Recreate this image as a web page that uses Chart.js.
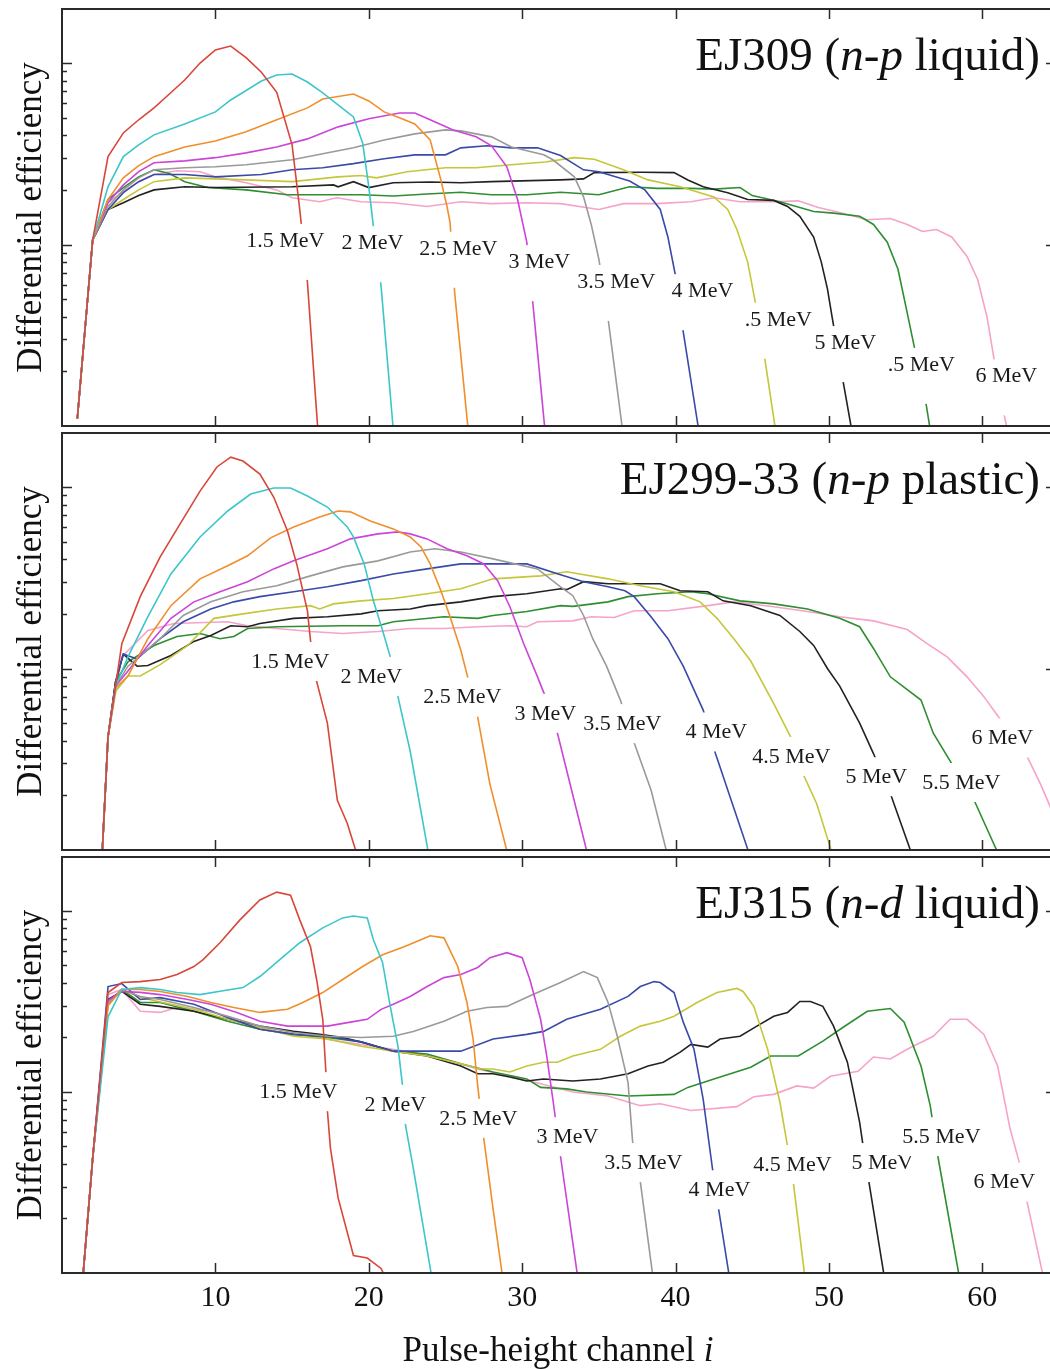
<!DOCTYPE html>
<html><head><meta charset="utf-8">
<script src="https://cdn.jsdelivr.net/npm/chart.js@4"></script>
<style>
html,body{margin:0;padding:0;background:#fff;overflow:hidden;width:1050px;height:1369px}
canvas{position:absolute;left:0}
</style></head><body>
<canvas id="c1" width="1060" height="430" style="top:0px"></canvas>
<canvas id="c2" width="1060" height="424" style="top:430px"></canvas>
<canvas id="c3" width="1060" height="515" style="top:854px"></canvas>
<script>
// ---------- shared text / ticks ----------
const energies = ['1.5 MeV','2 MeV','2.5 MeV','3 MeV','3.5 MeV','4 MeV','4.5 MeV','5 MeV','5.5 MeV','6 MeV'];
const xTickValues = [10,20,30,40,50,60];
const xTickLabels = ['10','20','30','40','50','60'];
const yAxisTitle = 'Differential efficiency';
const xAxisTitle = [['Pulse-height channel ',0],['i',1]];

// ---------- EJ309 (n-p liquid) : [channel, efficiency] ----------
const ej309_15 = [[1,0.011],[2,0.106],[3,0.305],[4,0.412],[5,0.487],[6,0.566],[7,0.675],[8,0.806],[9,1.0],[10,1.18],[11,1.24],[12,1.07],[13,0.89],[14,0.69],[15,0.354],[15.5,0.156],[16,0.062],[16.5,0.0155],[17,0.004]];
const ej309_20 = [[1,0.011],[2,0.106],[3,0.208],[4,0.305],[5,0.354],[6,0.402],[8,0.462],[10,0.538],[11,0.626],[13,0.796],[14,0.86],[15,0.87],[16,0.786],[17,0.684],[19,0.505],[19.6,0.363],[20,0.208],[20.3,0.126],[20.8,0.059],[21.7,0.0075]];
const ej309_25 = [[1,0.011],[2,0.106],[3,0.177],[4,0.233],[5,0.272],[6,0.305],[8,0.345],[10,0.372],[12,0.418],[14,0.487],[16,0.566],[17,0.634],[19,0.675],[20,0.618],[21,0.538],[22,0.499],[23,0.462],[24,0.377],[24.7,0.227],[25.1,0.162],[25.3,0.132],[25.6,0.054],[26.6,0.0075]];
const ej309_30 = [[1,0.011],[2,0.106],[3,0.17],[4,0.213],[5,0.252],[6,0.282],[8,0.289],[10,0.301],[12,0.32],[14,0.345],[16,0.382],[18,0.445],[20,0.493],[22,0.531],[23,0.531],[24,0.487],[25.5,0.428],[27,0.392],[28,0.35],[29,0.268],[29.7,0.177],[30.3,0.103],[30.7,0.047],[31.6,0.0075]];
const ej309_35 = [[1,0.011],[2,0.106],[3,0.162],[4,0.2],[5,0.233],[6,0.258],[8,0.265],[10,0.268],[12,0.275],[15,0.293],[17,0.316],[19,0.341],[21,0.377],[23,0.407],[25,0.428],[26,0.423],[28,0.392],[29.3,0.345],[31.4,0.312],[32,0.293],[33.4,0.236],[34,0.183],[34.5,0.129],[35,0.083],[35.6,0.039],[36.7,0.0075]];
const ej309_40 = [[1,0.011],[2,0.106],[3,0.156],[4,0.193],[5,0.222],[6,0.243],[8,0.243],[10,0.236],[13,0.243],[15,0.258],[17,0.265],[19,0.279],[21,0.297],[23,0.312],[25,0.312],[26,0.341],[27.7,0.35],[29.3,0.341],[31,0.341],[32.5,0.309],[34,0.258],[35,0.252],[37,0.224],[38,0.2],[39,0.156],[39.5,0.11],[40,0.067],[40.5,0.033],[41.7,0.0075]];
const ej309_45 = [[1,0.011],[2,0.106],[3,0.156],[4,0.177],[5,0.2],[6,0.222],[8,0.233],[12,0.227],[15,0.222],[18,0.236],[19.5,0.24],[20.5,0.233],[22.5,0.252],[25,0.265],[27,0.265],[29.3,0.275],[31.5,0.285],[33.4,0.301],[34.7,0.295],[36.6,0.258],[38.2,0.227],[40.3,0.208],[42.5,0.183],[43.4,0.156],[44,0.121],[44.7,0.08],[45.2,0.048],[45.8,0.024],[46.7,0.0075]];
const ej309_50 = [[1,0.011],[2,0.106],[3,0.156],[4,0.17],[5,0.186],[6,0.2],[8,0.208],[10,0.206],[15,0.208],[17.7,0.213],[18,0.208],[19,0.222],[20,0.206],[21.6,0.219],[24,0.221],[26,0.219],[28,0.222],[32.5,0.227],[34,0.23],[34.7,0.249],[37.8,0.25],[39.9,0.249],[40.8,0.227],[41.8,0.208],[43.4,0.193],[44.7,0.177],[46.4,0.175],[47.3,0.162],[48.1,0.143],[49,0.11],[49.5,0.08],[49.9,0.057],[50.2,0.04],[50.9,0.018],[51.7,0.0075]];
const ej309_55 = [[1,0.011],[2,0.106],[3,0.177],[4,0.206],[5,0.236],[6,0.258],[7,0.246],[8,0.222],[9.5,0.206],[12,0.2],[14.7,0.188],[17,0.188],[19.5,0.188],[21.6,0.185],[23.8,0.19],[26,0.194],[28,0.188],[30.3,0.188],[32.5,0.194],[35,0.188],[37,0.208],[38.8,0.204],[41,0.204],[42.5,0.202],[44.2,0.206],[45,0.186],[46.8,0.172],[49,0.152],[50.3,0.149],[52,0.143],[52.9,0.129],[53.8,0.103],[54.5,0.073],[55.1,0.042],[56.3,0.0137],[56.8,0.0075]];
const ej309_60 = [[1,0.011],[2,0.106],[3,0.17],[4,0.196],[5,0.222],[6,0.243],[7.5,0.255],[9,0.252],[10,0.236],[12,0.219],[14,0.2],[15,0.181],[16.8,0.172],[17.9,0.181],[19.5,0.172],[21.6,0.17],[23.8,0.162],[26,0.172],[28,0.168],[30.3,0.17],[32.5,0.168],[35,0.156],[36.6,0.168],[38.8,0.168],[41,0.172],[42.5,0.181],[44.2,0.172],[46.4,0.172],[48,0.174],[49.3,0.16],[50.7,0.15],[52.5,0.137],[54,0.139],[55.1,0.129],[56.1,0.118],[57,0.121],[58,0.11],[59,0.086],[59.7,0.064],[60.3,0.04],[61.2,0.014],[61.9,0.0075]];
const ej309_title = [['EJ309 (',0],['n',1],['-',0],['p',1],[' liquid)',0]];
const ej309_labels = ['1.5 MeV','2 MeV','2.5 MeV','3 MeV','3.5 MeV','4 MeV','.5 MeV','5 MeV','.5 MeV','6 MeV'];
const ej309_labelAt = [[14.56,0.106],[20.24,0.103],[25.84,0.096],[31.12,0.081],[36.14,0.063],[41.75,0.056],[46.7,0.039],[51.07,0.029],[56.02,0.022],[61.56,0.019]];

// ---------- EJ299-33 (n-p plastic) ----------
const ej299_15 = [[2.5,0.006],[3,0.042],[3.9,0.137],[5.1,0.249],[6.4,0.412],[7.7,0.626],[9,0.95],[10.1,1.29],[11,1.46],[11.8,1.39],[12.9,1.18],[13.8,0.881],[14.7,0.573],[15.3,0.377],[16,0.208],[16.2,0.143],[16.6,0.085],[17.3,0.05],[17.95,0.0188],[18.6,0.014],[19.4,0.0085]];
const ej299_20 = [[2.5,0.006],[3,0.042],[3.5,0.08],[4.3,0.116],[5.6,0.193],[7.1,0.332],[9,0.531],[10.8,0.738],[12.3,0.915],[13.8,0.987],[14.9,0.987],[16,0.892],[17.3,0.776],[18.6,0.603],[19,0.531],[19.7,0.377],[20.3,0.236],[20.9,0.162],[21.4,0.116],[21.9,0.07],[22.7,0.035],[24,0.0085]];
const ej299_25 = [[2.5,0.006],[3,0.042],[3.5,0.078],[4.3,0.091],[5.6,0.146],[7.1,0.222],[9,0.312],[10.8,0.368],[12.1,0.418],[13.6,0.525],[15.1,0.603],[16.8,0.684],[18,0.738],[18.8,0.73],[20.1,0.65],[21.6,0.588],[22.7,0.531],[23.4,0.468],[24,0.377],[24.7,0.268],[25.3,0.193],[26,0.126],[26.5,0.086],[27.1,0.054],[27.9,0.023],[29.2,0.0085]];
const ej299_30 = [[2.5,0.006],[3,0.042],[3.5,0.08],[4.3,0.097],[5.6,0.134],[7.1,0.189],[8.6,0.233],[10.3,0.265],[12.1,0.301],[13.8,0.354],[15.1,0.392],[17.3,0.457],[18.8,0.518],[20.6,0.552],[21.9,0.566],[22.7,0.552],[23.8,0.518],[25.1,0.457],[26.4,0.418],[27.5,0.377],[28.4,0.305],[29.2,0.219],[30.1,0.137],[31,0.09],[31.6,0.067],[32.3,0.044],[34.4,0.0085]];
const ej299_35 = [[2.5,0.006],[3,0.042],[3.5,0.08],[4.3,0.103],[6.4,0.146],[7.9,0.196],[9.7,0.233],[11.8,0.265],[14,0.286],[16.2,0.324],[18.3,0.363],[20.6,0.392],[22.7,0.439],[24.3,0.457],[26,0.439],[28.1,0.402],[31,0.354],[32.5,0.282],[33.3,0.252],[34,0.196],[34.6,0.146],[35.5,0.103],[36.4,0.067],[37.3,0.039],[38.4,0.0214],[39.6,0.0085]];
const ej299_40 = [[2.5,0.006],[3,0.042],[3.5,0.085],[4,0.12],[4.9,0.113],[6.4,0.146],[7.9,0.181],[9.7,0.213],[11.2,0.233],[12.9,0.249],[15.1,0.265],[17.3,0.282],[19.5,0.305],[21.6,0.332],[23.8,0.354],[26,0.377],[30.3,0.377],[32.5,0.329],[34,0.301],[35.6,0.282],[36.7,0.268],[37.3,0.249],[38.4,0.193],[39.5,0.146],[40.5,0.103],[41.8,0.059],[42.6,0.034],[45,0.0085]];
const ej299_45 = [[2.5,0.006],[3,0.042],[3.5,0.075],[4.3,0.091],[5.1,0.091],[6.4,0.105],[8.2,0.134],[9.9,0.189],[11.8,0.2],[14,0.213],[16.2,0.222],[16.8,0.213],[17.7,0.227],[19.5,0.236],[21.6,0.243],[23.8,0.258],[26,0.275],[28.1,0.312],[31.2,0.324],[32.9,0.341],[35.6,0.312],[37.7,0.286],[39.9,0.265],[41.6,0.233],[42.7,0.189],[43.8,0.146],[44.9,0.11],[46.4,0.064],[47.5,0.042],[48.3,0.0264],[49.2,0.018],[50.4,0.0085]];
const ej299_50 = [[2.5,0.006],[3,0.042],[3.5,0.085],[4,0.12],[4.9,0.103],[5.6,0.104],[7.1,0.118],[8.6,0.141],[9.7,0.152],[11,0.172],[12.1,0.17],[12.9,0.177],[15.1,0.189],[17.3,0.193],[19.5,0.2],[20.6,0.208],[22.7,0.213],[23.8,0.222],[26,0.233],[28.1,0.249],[30.3,0.258],[32.5,0.275],[32.9,0.272],[34,0.301],[35.6,0.293],[39,0.293],[40.3,0.268],[42.1,0.265],[43.1,0.236],[44.9,0.222],[46.8,0.196],[48.1,0.16],[49,0.134],[49.9,0.1],[50.7,0.08],[52,0.05],[52.9,0.034],[54,0.0205],[55.6,0.0085]];
const ej299_55 = [[2.5,0.006],[3,0.042],[3.5,0.085],[4.3,0.109],[6,0.134],[7.5,0.15],[9,0.156],[10.3,0.146],[11.2,0.15],[12.1,0.166],[14,0.17],[18.3,0.172],[20.6,0.172],[21.6,0.181],[24.9,0.193],[27.1,0.189],[28.1,0.196],[30.3,0.206],[32.5,0.222],[33.3,0.22],[35.6,0.233],[36.9,0.249],[38.8,0.258],[41,0.265],[42.1,0.258],[44.2,0.236],[46.4,0.227],[48.6,0.213],[50.7,0.189],[52,0.17],[52.9,0.129],[54,0.09],[56,0.067],[56.8,0.044],[58.1,0.029],[59.5,0.0185],[61.3,0.0085]];
const ej299_60 = [[2.5,0.006],[3,0.042],[3.9,0.116],[5.6,0.162],[7.3,0.177],[10.8,0.181],[12.1,0.172],[14,0.166],[16.2,0.16],[18.3,0.156],[20.6,0.16],[22.7,0.166],[24.9,0.166],[27.1,0.17],[29.2,0.172],[30.3,0.17],[31,0.181],[33.3,0.183],[34.5,0.193],[36,0.191],[37.3,0.208],[39.5,0.208],[42.1,0.222],[43.8,0.233],[46.4,0.219],[48.6,0.206],[50.7,0.193],[52.9,0.183],[55.1,0.164],[56.4,0.137],[57.7,0.116],[59,0.09],[60.1,0.07],[61.2,0.052],[62.9,0.033],[63.8,0.023],[64.4,0.0175],[65,0.013]];
const ej299_title = [['EJ299-33 (',0],['n',1],['-',0],['p',1],[' plastic)',0]];
const ej299_labels = ['1.5 MeV','2 MeV','2.5 MeV','3 MeV','3.5 MeV','4 MeV','4.5 MeV','5 MeV','5.5 MeV','6 MeV'];
const ej299_labelAt = [[14.89,0.11],[20.17,0.091],[26.1,0.07],[31.51,0.057],[36.53,0.05],[42.66,0.045],[47.55,0.033],[53.09,0.0255],[58.63,0.0237],[61.3,0.0417]];

// ---------- EJ315 (n-d liquid) ----------
const ej315_15 = [[1,0.004],[2,0.043],[3,0.354],[3.9,0.402],[5.1,0.407],[6.4,0.418],[7.5,0.445],[8.6,0.493],[9.2,0.538],[10.3,0.667],[11.6,0.892],[12.9,1.15],[14,1.27],[14.9,1.22],[15.5,0.892],[16.2,0.634],[16.6,0.418],[17,0.252],[17.2,0.13],[17.3,0.079],[17.5,0.049],[18,0.026],[19,0.0125],[19.9,0.0121],[20.8,0.0106],[21.2,0.009]];
const ej315_20 = [[1,0.004],[2,0.043],[3,0.26],[3.9,0.368],[5.1,0.377],[6.4,0.368],[7.5,0.354],[9,0.345],[10.3,0.36],[11.8,0.377],[12.9,0.434],[14.2,0.538],[15.5,0.667],[17,0.806],[18.3,0.915],[19,0.938],[19.9,0.915],[20.3,0.693],[20.9,0.518],[21.4,0.297],[21.9,0.179],[22.2,0.108],[22.4,0.065],[22.9,0.038],[24.2,0.0085]];
const ej315_25 = [[1,0.004],[2,0.043],[3,0.3],[3.9,0.368],[5.1,0.368],[6.4,0.359],[8.2,0.337],[9.7,0.312],[11.2,0.293],[12.9,0.275],[14.7,0.286],[15.7,0.312],[17,0.354],[18.3,0.418],[19.6,0.493],[20.9,0.573],[22.3,0.634],[23.4,0.693],[24,0.729],[24.9,0.71],[25.8,0.493],[26.4,0.312],[26.8,0.196],[27.1,0.108],[27.5,0.055],[28.1,0.0227],[28.8,0.0085]];
const ej315_30 = [[1,0.004],[2,0.043],[3,0.32],[3.9,0.359],[5.1,0.355],[6.4,0.345],[8.2,0.324],[9.7,0.305],[11.4,0.275],[12.9,0.246],[14.7,0.231],[17.3,0.231],[18.8,0.243],[19.9,0.252],[20.8,0.286],[21.6,0.305],[22.7,0.337],[23.8,0.382],[24.9,0.428],[26,0.445],[27.1,0.487],[27.9,0.552],[29,0.588],[30,0.552],[30.5,0.418],[31.2,0.252],[31.6,0.158],[32,0.091],[32.5,0.044],[33.7,0.0085]];
const ej315_35 = [[1,0.004],[2,0.043],[3,0.31],[3.9,0.368],[5.1,0.337],[6.4,0.324],[8.6,0.293],[10.8,0.262],[12.9,0.231],[15.1,0.213],[17.3,0.203],[19.5,0.2],[21.6,0.203],[22.9,0.216],[24.9,0.246],[26.4,0.279],[27.7,0.293],[29,0.297],[30.7,0.345],[32.5,0.402],[34,0.462],[34.9,0.428],[35.6,0.312],[36.2,0.203],[36.9,0.113],[37.2,0.053],[37.7,0.032],[38.6,0.0085]];
const ej315_40 = [[1,0.004],[2,0.043],[3,0.382],[3.9,0.397],[5.1,0.324],[6.4,0.332],[8.6,0.305],[10.8,0.258],[12.9,0.222],[15.1,0.208],[17.3,0.203],[19.5,0.189],[21.6,0.168],[26,0.168],[28.1,0.196],[30.3,0.208],[31.4,0.216],[32.9,0.252],[35.1,0.286],[36.9,0.337],[37.7,0.382],[38.6,0.407],[39,0.402],[39.9,0.354],[40.5,0.243],[41.2,0.172],[41.8,0.091],[42.4,0.038],[42.8,0.0227],[43.6,0.0085]];
const ej315_45 = [[1,0.004],[2,0.043],[3,0.3],[3.9,0.368],[5.1,0.332],[8.6,0.286],[10.8,0.252],[12.9,0.227],[15.1,0.203],[17.3,0.196],[19.5,0.179],[21.6,0.168],[23.8,0.158],[26,0.143],[27.3,0.134],[28.1,0.134],[29.2,0.129],[30.3,0.139],[31.4,0.146],[32.3,0.146],[33.3,0.158],[35.1,0.172],[36.4,0.203],[37.7,0.231],[39,0.246],[39.9,0.262],[41.4,0.312],[42.7,0.354],[44,0.373],[44.4,0.359],[45.1,0.297],[46,0.172],[46.8,0.088],[47.3,0.05],[47.7,0.0305],[48.5,0.0085]];
const ej315_50 = [[1,0.004],[2,0.043],[3,0.324],[3.9,0.359],[5.1,0.305],[6.4,0.297],[8.6,0.279],[10.8,0.252],[12.9,0.231],[15.1,0.216],[16.8,0.208],[18.3,0.2],[19.5,0.189],[21.6,0.168],[23.8,0.158],[26,0.139],[27.1,0.126],[28.1,0.126],[29.2,0.121],[30.3,0.115],[31.4,0.118],[33.3,0.115],[35.1,0.118],[36.9,0.126],[38.2,0.139],[39.2,0.146],[40.3,0.166],[41,0.183],[42.1,0.177],[42.9,0.196],[44.2,0.203],[45.3,0.231],[46.4,0.262],[47.3,0.275],[48.1,0.316],[48.8,0.316],[49.6,0.297],[50.3,0.231],[51.2,0.146],[52,0.068],[52.2,0.052],[52.6,0.032],[53.7,0.0085]];
const ej315_55 = [[1,0.004],[2,0.043],[3,0.31],[3.9,0.368],[5.1,0.312],[6.4,0.312],[8.6,0.279],[10.8,0.246],[12.9,0.222],[15.1,0.208],[17.3,0.2],[19.5,0.189],[21.6,0.168],[23.8,0.162],[26,0.143],[28.1,0.129],[30.3,0.118],[31.2,0.106],[32.9,0.104],[34.2,0.1],[36.9,0.095],[39.9,0.097],[40.8,0.106],[42.5,0.118],[44.9,0.137],[46.2,0.158],[48,0.158],[49.6,0.191],[50.9,0.227],[52.5,0.279],[54,0.289],[54.9,0.243],[56,0.139],[56.6,0.084],[57.1,0.044],[58.6,0.0085]];
const ej315_60 = [[1,0.004],[2,0.043],[3,0.345],[3.9,0.368],[5.1,0.279],[6.4,0.275],[7.5,0.293],[9.7,0.279],[11.8,0.246],[14,0.216],[16.2,0.203],[18.3,0.189],[20.6,0.177],[22.7,0.166],[24.9,0.152],[27.1,0.134],[29.2,0.122],[31.4,0.11],[33.3,0.1],[35.6,0.095],[37.7,0.084],[39,0.086],[41,0.079],[44,0.083],[45.1,0.094],[46.4,0.097],[47.9,0.108],[49,0.105],[50.1,0.122],[51.9,0.13],[52.9,0.156],[54,0.152],[55.1,0.172],[56.8,0.203],[57.9,0.252],[59,0.252],[60.1,0.208],[61,0.139],[61.8,0.063],[62.4,0.041],[62.9,0.025],[64.1,0.0085]];
const ej315_title = [['EJ315 (',0],['n',1],['-',0],['d',1],[' liquid)',0]];
const ej315_labels = ['1.5 MeV','2 MeV','2.5 MeV','3 MeV','3.5 MeV','4 MeV','4.5 MeV','5 MeV','5.5 MeV','6 MeV'];
const ej315_labelAt = [[15.41,0.101],[21.73,0.086],[27.14,0.072],[32.95,0.057],[37.9,0.041],[42.86,0.029],[47.62,0.04],[53.48,0.041],[57.33,0.057],[61.43,0.032]];

// ---------- styling ----------
const colors = ['#d8463a','#3cc6ca','#f18e2c','#cc44d8','#9a9a9a','#3a4aa8','#c6c63a','#222222','#2e8e30','#f6a3c9'];
const SERIF = '"Liberation Serif","Times New Roman",Times,serif';

function fontOf(size, italic){ return (italic?'italic ':'') + size + 'px ' + SERIF; }

function drawRich(ctx, parts, x, y, size, align){
  const ws = parts.map(p => { ctx.font = fontOf(size, p[1]); return ctx.measureText(p[0]).width; });
  const total = ws.reduce((a,b)=>a+b,0);
  let x0 = align === 'right' ? x - total : x - total/2;
  ctx.textAlign = 'left'; ctx.textBaseline = 'alphabetic';
  parts.forEach((p,i) => { ctx.font = fontOf(size, p[1]); ctx.fillText(p[0], x0, y); x0 += ws[i]; });
}

function makePlugin(cfg){
  return {
    id: 'frame_' + cfg.id,
    afterDatasetsDraw(chart){
      const ctx = chart.ctx, a = chart.chartArea, xs = chart.scales.x, ys = chart.scales.y;
      ctx.save();
      // energy labels with white boxes
      ctx.font = fontOf(22, false);
      cfg.labels.forEach((t,i) => {
        const px = xs.getPixelForValue(cfg.labelAt[i][0]);
        const py = ys.getPixelForValue(cfg.labelAt[i][1]);
        const w = ctx.measureText(t).width;
        ctx.fillStyle = '#ffffff';
        ctx.fillRect(px - w/2 - 2, py - cfg.boxUp, w + 4, cfg.boxUp + cfg.boxDown);
        ctx.fillStyle = '#1a1a1a';
        ctx.textAlign = 'center'; ctx.textBaseline = 'middle';
        ctx.fillText(t, px, py + 1);
      });
      // frame
      ctx.strokeStyle = '#2a2a2a';
      ctx.lineWidth = 2;
      ctx.strokeRect(a.left, a.top, a.right - a.left, a.bottom - a.top);
      ctx.lineWidth = 1.5;
      ctx.beginPath();
      xTickValues.forEach(v => {
        const px = Math.round(xs.getPixelForValue(v)) + 0.5;
        ctx.moveTo(px, a.top); ctx.lineTo(px, a.top + 10);
        ctx.moveTo(px, a.bottom); ctx.lineTo(px, a.bottom - 10);
      });
      [0.01,0.1,1].forEach(dec => {
        for (let m = 1; m <= 9; m++) {
          const v = dec * m;
          if (v <= ys.min || v >= ys.max) continue;
          const py = Math.round(ys.getPixelForValue(v)) + 0.5;
          const len = m === 1 ? 10 : 5;
          ctx.moveTo(a.left, py); ctx.lineTo(a.left + len, py);
          ctx.moveTo(a.right, py); ctx.lineTo(a.right - len, py);
        }
      });
      ctx.stroke();
      // panel title
      ctx.fillStyle = '#111';
      drawRich(ctx, cfg.title, 1040, a.top + 61, 47, 'right');
      // y axis title
      ctx.save();
      ctx.translate(41, (a.top + a.bottom) / 2);
      ctx.rotate(-Math.PI / 2);
      ctx.font = fontOf(35, false);
      ctx.textAlign = 'center'; ctx.textBaseline = 'alphabetic';
      ctx.fillText(yAxisTitle, 0, 0);
      ctx.restore();
      // x axis labels (bottom panel only)
      if (cfg.xLabels) {
        ctx.font = fontOf(30, false);
        ctx.textAlign = 'center'; ctx.textBaseline = 'middle';
        xTickValues.forEach((v,i) => ctx.fillText(xTickLabels[i], xs.getPixelForValue(v), a.bottom + 25));
        drawRich(ctx, xAxisTitle, 558, a.bottom + 88, 35, 'center');
      }
      ctx.restore();
    }
  };
}

function build(id, series, cfg, pad){
  const datasets = series.map((s,i) => ({
    label: energies[i],
    data: s.map(p => ({x: p[0], y: p[1]})),
    borderColor: colors[i],
    borderWidth: 1.6,
    pointRadius: 0,
    fill: false,
    tension: 0
  }));
  new Chart(document.getElementById(id), {
    type: 'line',
    data: { datasets },
    options: {
      responsive: false,
      animation: false,
      devicePixelRatio: 1,
      layout: { padding: pad },
      plugins: { legend: {display: false}, tooltip: {enabled: false} },
      scales: {
        x: { type: 'linear', min: 0, max: 64.8, display: false },
        y: { type: 'logarithmic', min: 0.01, max: 1.985, display: false }
      }
    },
    plugins: [makePlugin(cfg)]
  });
}

build('c1', [ej309_15,ej309_20,ej309_25,ej309_30,ej309_35,ej309_40,ej309_45,ej309_50,ej309_55,ej309_60],
  {id:1, title: ej309_title, labels: ej309_labels, labelAt: ej309_labelAt, boxUp: 16, boxDown: 40, xLabels: false},
  {left: 62, right: 4, top: 9, bottom: 4});
build('c2', [ej299_15,ej299_20,ej299_25,ej299_30,ej299_35,ej299_40,ej299_45,ej299_50,ej299_55,ej299_60],
  {id:2, title: ej299_title, labels: ej299_labels, labelAt: ej299_labelAt, boxUp: 19, boxDown: 20, xLabels: false},
  {left: 62, right: 4, top: 3, bottom: 4});
build('c3', [ej315_15,ej315_20,ej315_25,ej315_30,ej315_35,ej315_40,ej315_45,ej315_50,ej315_55,ej315_60],
  {id:3, title: ej315_title, labels: ej315_labels, labelAt: ej315_labelAt, boxUp: 19, boxDown: 20, xLabels: true},
  {left: 62, right: 4, top: 3, bottom: 96});
</script>
</body></html>
